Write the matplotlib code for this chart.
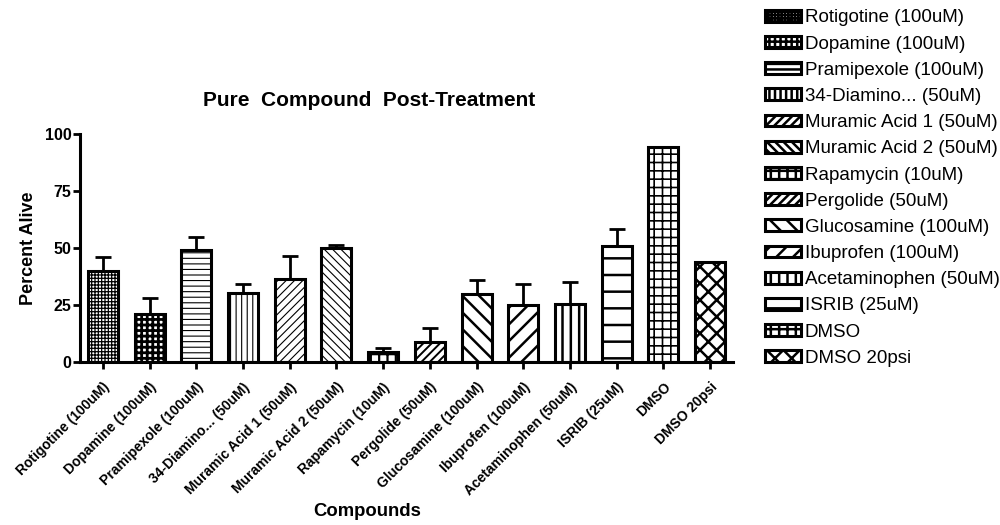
import matplotlib.pyplot as plt
import numpy as np

plt.rcParams['font.family'] = ['Liberation Sans', 'DejaVu Sans']

# datos
compuestos = ['Rotigotine (100uM)', 'Dopamine (100uM)', 'Pramipexole (100uM)',
              '34-Diamino... (50uM)', 'Muramic Acid 1 (50uM)', 'Muramic Acid 2 (50uM)',
              'Rapamycin (10uM)', 'Pergolide (50uM)', 'Glucosamine (100uM)',
              'Ibuprofen (100uM)', 'Acetaminophen (50uM)', 'ISRIB (25uM)',
              'DMSO', 'DMSO 20psi']
porcentaje_vivo = [39.8, 21.0, 49.2, 30.2, 36.6, 50.1, 4.2, 8.6, 30.0, 25.1, 25.6, 50.9, 94.2, 43.8]
error_sup = [6.4, 7.0, 5.4, 4.0, 10.0, 1.0, 1.9, 6.2, 5.8, 9.2, 9.5, 7.3, 0.0, 0.0]

# estilo de relleno de cada barra (tramado, grosor del tramado)
tramas = [('+++++', 0.9), ('+++', 2.0), ('---', 0.8), ('|||', 0.8), ('////', 0.8),
          ('\\\\\\\\', 0.8), ('++', 1.6), ('////', 1.4), ('\\\\', 1.8), ('//', 1.8),
          ('||', 1.8), ('-', 1.8), ('++', 1.2), ('xx', 1.8)]

fig = plt.figure(figsize=(10, 5.25), dpi=100)
ax = fig.add_axes([0.08, 0.3105, 0.653, 0.4343])

x = np.arange(len(compuestos))
for i in range(len(compuestos)):
    trama, grosor = tramas[i]
    plt.rcParams['hatch.linewidth'] = grosor
    barra = ax.bar(x[i], porcentaje_vivo[i], width=0.64, color='white', edgecolor='black',
                   linewidth=2.2, hatch=trama, label=compuestos[i], zorder=2)
    for p in barra:
        if hasattr(p, 'set_hatch_linewidth'):
            p.set_hatch_linewidth(grosor)
    if error_sup[i] > 0:
        ax.errorbar(x[i], porcentaje_vivo[i], yerr=[[0], [error_sup[i]]], fmt='none',
                    ecolor='black', elinewidth=2, capsize=5.8, capthick=2, zorder=1)

ax.set_xlim(-0.49, len(compuestos) - 0.51)
ax.set_ylim(0, 100)
ax.set_yticks([0, 25, 50, 75, 100])
ax.set_xticks(x)
ax.set_xticklabels(compuestos, rotation=45, ha='right', rotation_mode='anchor',
                   fontsize=10, fontweight='bold')
for lab in ax.get_yticklabels():
    lab.set_fontweight('bold')
    lab.set_fontsize(11.5)

for lado in ['top', 'right']:
    ax.spines[lado].set_visible(False)
for lado in ['left', 'bottom']:
    ax.spines[lado].set_linewidth(2.2)
ax.tick_params(axis='both', direction='out', length=5, width=2)
ax.tick_params(axis='y', pad=1)
ax.tick_params(axis='x', pad=8)

fig.text(0.369, 1 - 100 / 525, 'Pure  Compound  Post-Treatment', fontsize=15,
         fontweight='bold', ha='center', va='center')
ax.set_ylabel('Percent Alive', fontsize=13, fontweight='bold', labelpad=6)
fig.text(0.367, 1 - 512 / 525, 'Compounds', fontsize=13.3, fontweight='bold',
         ha='center', va='center')

fig.legend(loc='upper left', bbox_to_anchor=(0.756, 1.0), frameon=False, fontsize=13.5,
           handlelength=1.9, handleheight=0.6, labelspacing=0.49, handletextpad=0.2,
           borderaxespad=0.1)

plt.savefig('out.png', dpi=100)
